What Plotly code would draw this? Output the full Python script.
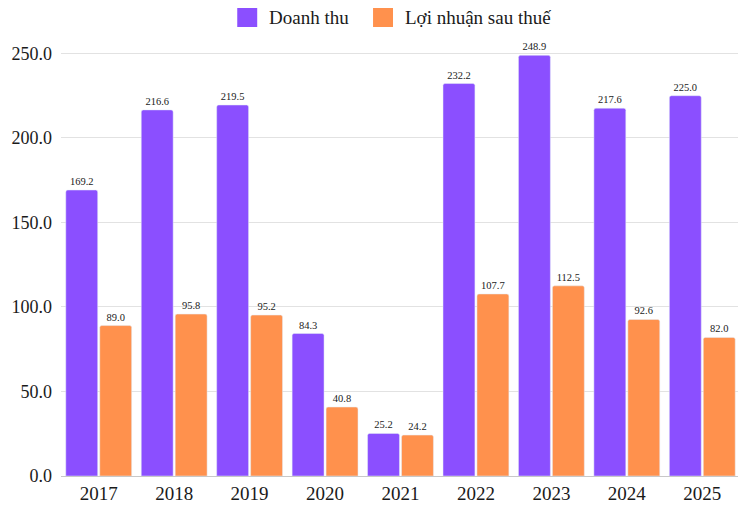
import plotly.graph_objects as go

years = ["2017", "2018", "2019", "2020", "2021", "2022", "2023", "2024", "2025"]
doanh_thu = [169.2, 216.6, 219.5, 84.3, 25.2, 232.2, 248.9, 217.6, 225.0]
loi_nhuan = [89.0, 95.8, 95.2, 40.8, 24.2, 107.7, 112.5, 92.6, 82.0]
y_ticks = [0, 50, 100, 150, 200, 250]
series_names = ["Doanh thu", "Lợi nhuận sau thuế"]
colors = ["#8B4FFF", "#FF914D"]

FONT = "Liberation Serif"
TXT = "#1a1a1a"

fig = go.Figure()
for name, vals, col in zip(series_names, [doanh_thu, loi_nhuan], colors):
    fig.add_trace(go.Bar(
        x=years, y=vals, name=name, showlegend=False,
        marker=dict(color=col, cornerradius=2),
        text=[f"{v:.1f}" for v in vals], textposition="outside",
        textfont=dict(family=FONT, size=10.5, color=TXT), cliponaxis=False,
    ))

W, H = 738, 503
L, T, PW, PH = 52.5, 37, 680, 431
leg = [(229, 259, series_names[0]), (365, 395, series_names[1])]
for (sx, tx, name), col in zip(leg, colors):
    fig.add_shape(type="rect", xref="paper", yref="paper",
                  x0=(sx - L) / PW, x1=(sx + 20 - L) / PW,
                  y0=1 + (T - 19) / PH, y1=1 + (T - 0) / PH,
                  fillcolor=col, line=dict(width=0))
    fig.add_annotation(xref="paper", yref="paper", x=(tx - L) / PW, y=1 + (T - 9) / PH,
                       xanchor="left", yanchor="middle", showarrow=False,
                       text=name, font=dict(family=FONT, size=19, color=TXT))

fig.update_layout(
    width=W, height=H,
    margin=dict(l=L, r=W - L - PW, t=T, b=H - T - PH, autoexpand=False),
    barmode="group", bargap=0.1, bargroupgap=0.06,
    plot_bgcolor="white", paper_bgcolor="white",
    font=dict(family=FONT, size=18, color=TXT),
    showlegend=False,
    xaxis=dict(showgrid=False, showline=True, linecolor="#c8c8c8", linewidth=1, automargin=False,
               tickfont=dict(family=FONT, size=19, color=TXT), ticks=""),
    yaxis=dict(range=[0, 255], tickvals=y_ticks, ticktext=[f"{v:.1f}" for v in y_ticks],
               showgrid=True, gridcolor="#e2e2e2", gridwidth=1, zeroline=False, automargin=False,
               tickfont=dict(family=FONT, size=18, color=TXT), ticks="", ticklabelstandoff=8),
)

fig.write_html("out.html")
